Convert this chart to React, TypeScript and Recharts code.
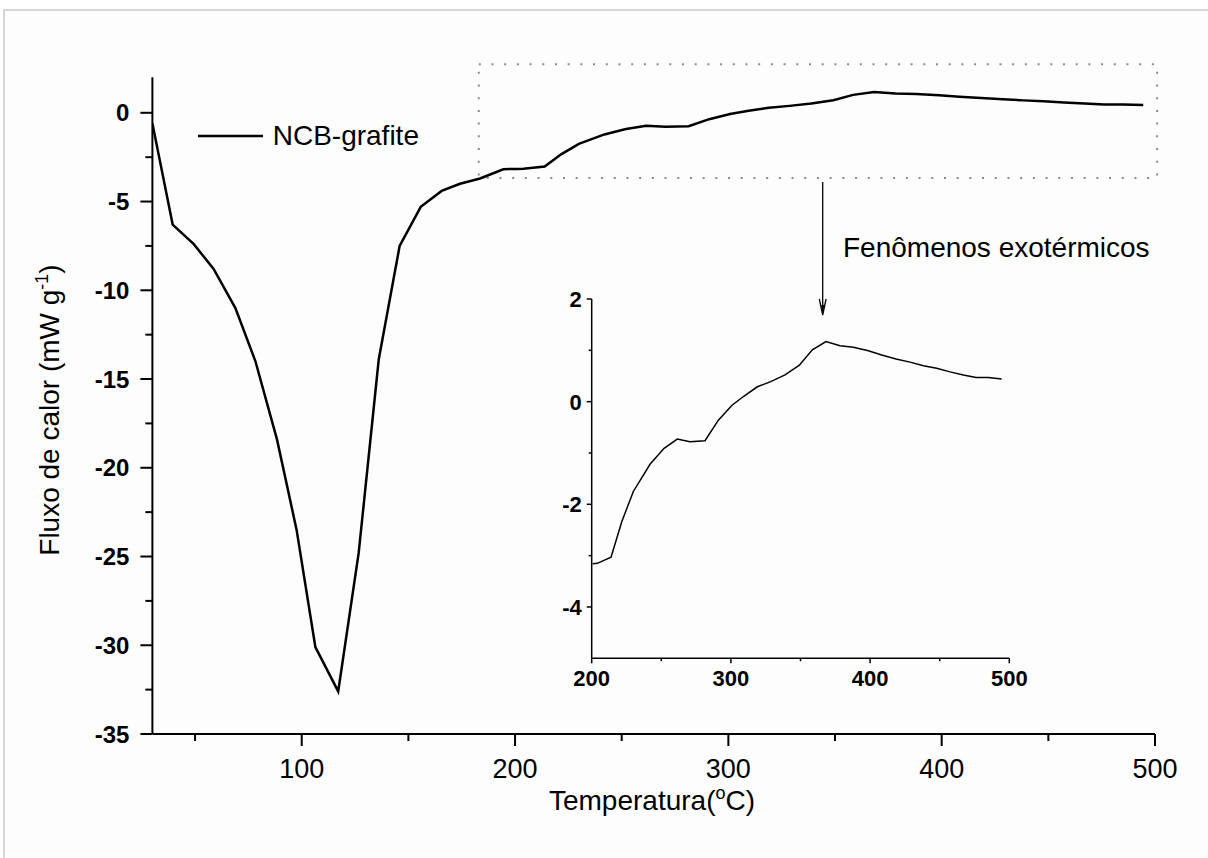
import React from 'react';
import { LineChart, Line, XAxis, YAxis, ReferenceArea, Legend } from 'recharts';

const FONT = '"Liberation Sans", Arial, Helvetica, sans-serif';

// Temperature (°C) and heat flow (mW g-1)
const temperature = [
  30, 39.5, 49.4, 58.7, 68.9, 78.3, 88.4, 97.6, 106.4, 117.1,
  126.7, 136.1, 145.9, 155.8, 165.6, 174.2, 183.6, 194.5, 200.7, 204,
  213.9, 221.6, 229.9, 241.9, 252, 261.5, 270.6, 281.4, 291, 300.8,
  309.5, 319, 328.6, 338.9, 349.2, 358.5, 368.3, 378.4, 388, 398.8,
  408.3, 418.6, 428.7, 438.3, 447.8, 457.4, 467, 476.1, 485, 494.5,
];
const heatFlow = [
  -0.6, -6.3, -7.4, -8.8, -11.0, -14.0, -18.4, -23.5, -30.1, -32.6,
  -24.8, -13.9, -7.5, -5.3, -4.4, -4.0, -3.7, -3.18, -3.16, -3.15,
  -3.03, -2.34, -1.75, -1.22, -0.91, -0.73, -0.78, -0.76, -0.36, -0.07,
  0.11, 0.29, 0.39, 0.52, 0.71, 1.01, 1.17, 1.09, 1.06, 0.99,
  0.91, 0.83, 0.77, 0.70, 0.65, 0.58, 0.52, 0.47, 0.47, 0.44,
];

const seriesName = 'NCB-grafite';

const mainXTicks = [50, 100, 150, 200, 250, 300, 350, 400, 450, 500];
const mainYTicks = [0, -2.5, -5, -7.5, -10, -12.5, -15, -17.5, -20, -22.5, -25, -27.5, -30, -32.5, -35];
const insetXTicks = [200, 250, 300, 350, 400, 450, 500];
const insetYTicks = [2, 1, 0, -1, -2, -3, -4];

const mainXDomain = [30, 500];
const mainYDomain = [-35, 2];
const insetXDomain = [200, 500];
const insetYDomain = [-5, 2];

// zoomed region marked on the main plot
const zoomBox = { x1: 183, x2: 501, y1: -3.68, y2: 2.73 };

const rows = temperature.map((t, i) => ({ t, v: heatFlow[i] }));
const insetRows = rows.filter((r) => r.t >= 200);

const MainXTick = (props: any) => {
  const { x, y, payload } = props;
  const major = payload.value % 100 === 0;
  return (
    <g>
      <line x1={x} x2={x} y1={y} y2={y + (major ? 12 : 7)} stroke="#000" strokeWidth={2} />
      {major && (
        <text x={x} y={y + 44} textAnchor="middle" fontSize={27} fontFamily={FONT} fill="#000">
          {payload.value}
        </text>
      )}
    </g>
  );
};

const MainYTick = (props: any) => {
  const { x, y, payload } = props;
  const major = payload.value % 5 === 0;
  return (
    <g>
      <line x1={x - (major ? 12 : 7)} x2={x} y1={y} y2={y} stroke="#000" strokeWidth={2} />
      {major && (
        <text x={x - 23} y={y} dy="0.36em" textAnchor="end" fontSize={24} fontWeight="bold" fontFamily={FONT} fill="#000">
          {payload.value}
        </text>
      )}
    </g>
  );
};

const InsetXTick = (props: any) => {
  const { x, y, payload } = props;
  const major = payload.value % 100 === 0;
  return (
    <g>
      <line x1={x} x2={x} y1={y} y2={y + (major ? 5 : 3)} stroke="#000" strokeWidth={1.5} />
      {major && (
        <text x={x} y={y + 28} textAnchor="middle" fontSize={22} fontWeight="bold" fontFamily={FONT} fill="#000">
          {payload.value}
        </text>
      )}
    </g>
  );
};

const InsetYTick = (props: any) => {
  const { x, y, payload } = props;
  const major = payload.value % 2 === 0;
  return (
    <g>
      <line x1={x - (major ? 5 : 3)} x2={x} y1={y} y2={y} stroke="#000" strokeWidth={1.5} />
      {major && (
        <text x={x - 10} y={y} dy="0.36em" textAnchor="end" fontSize={22} fontWeight="bold" fontFamily={FONT} fill="#000">
          {payload.value}
        </text>
      )}
    </g>
  );
};

const LegendContent = (props: any) => {
  const item = props.payload && props.payload[0];
  return (
    <svg width={240} height={40} style={{ display: 'block' }}>
      <line x1={3} x2={68} y1={18} y2={18} stroke={(item && item.color) || '#000'} strokeWidth={2.5} />
      <text x={77.7} y={27} fontSize={28} fontFamily={FONT} fill="#000">
        {(item && item.value) || seriesName}
      </text>
    </svg>
  );
};

export default function App() {
  return (
    <div
      style={{
        position: 'fixed',
        left: 0,
        top: 0,
        width: 1208,
        height: 858,
        overflow: 'hidden',
        background: '#ffffff',
        fontFamily: FONT,
      }}
    >
      <div
        style={{
          position: 'absolute',
          left: 3,
          top: 9,
          width: 1220,
          height: 870,
          border: '2px solid #d6d6d6',
          background: '#fdfdfd',
        }}
      />
      <div style={{ position: 'absolute', left: 0, top: 0 }}>
        <LineChart
          width={1208}
          height={858}
          data={rows}
          margin={{ top: 77.3, right: 53, bottom: 64, left: 92.4 }}
        >
          <XAxis
            dataKey="t"
            type="number"
            domain={mainXDomain}
            ticks={mainXTicks}
            interval={0}
            tickSize={0}
            tickMargin={0}
            tickLine={false}
            axisLine={{ stroke: '#000', strokeWidth: 2 }}
            tick={(p: any) => <MainXTick {...p} />}
            height={60}
            allowDataOverflow
          />
          <YAxis
            type="number"
            domain={mainYDomain}
            ticks={mainYTicks}
            interval={0}
            tickSize={0}
            tickMargin={0}
            tickLine={false}
            axisLine={{ stroke: '#000', strokeWidth: 2 }}
            tick={(p: any) => <MainYTick {...p} />}
            width={60}
            allowDataOverflow
          />
          <ReferenceArea
            x1={zoomBox.x1}
            x2={zoomBox.x2}
            y1={zoomBox.y1}
            y2={zoomBox.y2}
            ifOverflow="visible"
            fill="none"
            fillOpacity={0}
            stroke="#8a8a8a"
            strokeWidth={2}
            strokeDasharray="2 10.7"
          />
          <Line
            type="linear"
            dataKey="v"
            name={seriesName}
            stroke="#000"
            strokeWidth={2.5}
            dot={false}
            activeDot={false}
            isAnimationActive={false}
          />
          <Legend
            layout="vertical"
            align="center"
            verticalAlign="middle"
            wrapperStyle={{ left: 195, top: 118, width: 'auto' }}
            content={(p: any) => <LegendContent {...p} />}
          />
        </LineChart>
      </div>

      <div style={{ position: 'absolute', left: 520, top: 280 }}>
        <LineChart
          width={520}
          height={420}
          data={insetRows}
          margin={{ top: 19, right: 30.7, bottom: 11.7, left: 21.7 }}
        >
          <XAxis
            dataKey="t"
            type="number"
            domain={insetXDomain}
            ticks={insetXTicks}
            interval={0}
            tickSize={0}
            tickMargin={0}
            tickLine={false}
            axisLine={{ stroke: '#000', strokeWidth: 1.5 }}
            tick={(p: any) => <InsetXTick {...p} />}
            height={30}
            allowDataOverflow
          />
          <YAxis
            type="number"
            domain={insetYDomain}
            ticks={insetYTicks}
            interval={0}
            tickSize={0}
            tickMargin={0}
            tickLine={false}
            axisLine={{ stroke: '#000', strokeWidth: 1.5 }}
            tick={(p: any) => <InsetYTick {...p} />}
            width={50}
            allowDataOverflow
          />
          <Line
            type="linear"
            dataKey="v"
            name={seriesName}
            stroke="#000"
            strokeWidth={1.5}
            dot={false}
            activeDot={false}
            isAnimationActive={false}
          />
        </LineChart>
      </div>

      <svg
        width={1208}
        height={858}
        style={{ position: 'absolute', left: 0, top: 0, pointerEvents: 'none' }}
      >
        <text x={652} y={810} textAnchor="middle" fontSize={28} fontFamily={FONT} fill="#000">
          Temperatura(
          <tspan dy={-11} fontSize={18}>o</tspan>
          <tspan dy={11}>C)</tspan>
        </text>
        <text
          transform="translate(59, 410) rotate(-90)"
          textAnchor="middle"
          fontSize={28}
          fontFamily={FONT}
          fill="#000"
        >
          Fluxo de calor (mW g
          <tspan dy={-11} fontSize={18}>-1</tspan>
          <tspan dy={11}>)</tspan>
        </text>
        <line x1={822.7} x2={822.7} y1={182} y2={313} stroke="#000" strokeWidth={1.3} />
        <path d="M819.3 299 L822.7 315 L826.1 299" fill="none" stroke="#000" strokeWidth={1.3} />
        <path d="M821.2 305 L822.7 315 L824.2 305 Z" fill="#000" />
        <text x={843} y={257} fontSize={28} fontFamily={FONT} fill="#000">
          Fenômenos exotérmicos
        </text>
      </svg>
    </div>
  );
}
